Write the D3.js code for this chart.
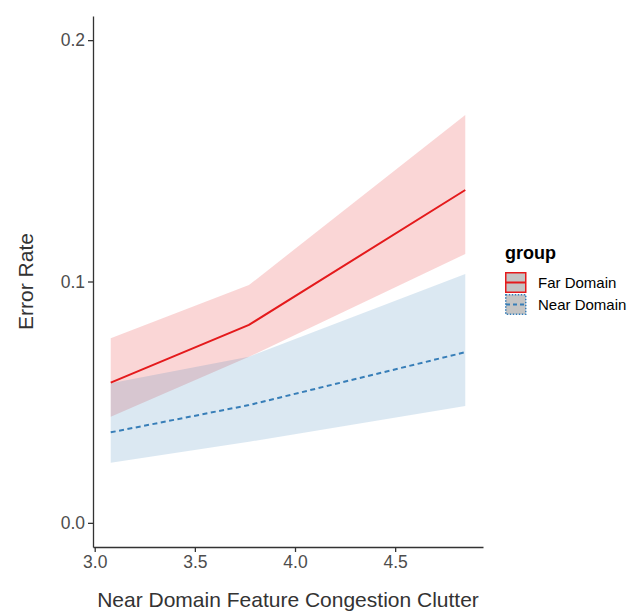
<!DOCTYPE html>
<html>
<head>
<meta charset="utf-8">
<script src="https://cdn.jsdelivr.net/npm/d3@7"></script>
<style>
  body { margin: 0; background: #fff; }
  svg { display: block; font-family: "Liberation Sans", Arial, sans-serif; }
  .axis path, .axis line { stroke: #333; stroke-width: 1.3; }
  .axis text { fill: #4d4d4d; font-size: 17.5px; }
</style>
</head>
<body>
<div id="chart"></div>
<script>
// ----- DATA -----
const clutter = [3.08, 3.77, 4.85];

const farFit   = [0.0581, 0.0820, 0.1379];
const farLow   = [0.0440, 0.0688, 0.1114];
const farHigh  = [0.0765, 0.0985, 0.1690];

const nearFit  = [0.0375, 0.0488, 0.0707];
const nearLow  = [0.0249, 0.0336, 0.0484];
const nearHigh = [0.0578, 0.0688, 0.1031];

const groups = ["Far Domain", "Near Domain"];
const xTicks = [3.0, 3.5, 4.0, 4.5];
const yTicks = [0.0, 0.1, 0.2];

// ----- LAYOUT -----
const width = 632, height = 613;
const panel = { left: 93, right: 483, top: 16, bottom: 547 };

const series = [
    { name: groups[0], fit: farFit, low: farLow, high: farHigh, colour: "#e41a1c", dash: null },
    { name: groups[1], fit: nearFit, low: nearLow, high: nearHigh, colour: "#377eb8", dash: "5,3.5" }
];

const svg = d3.select("#chart").append("svg")
    .attr("width", width)
    .attr("height", height);

// ggplot-like 5% expansion
let xExt = d3.extent(clutter);
let xPad = (xExt[1] - xExt[0]) * 0.05;
let x = d3.scaleLinear()
    .domain([xExt[0] - xPad, xExt[1] + xPad])
    .range([panel.left, panel.right]);

let y = d3.scaleLinear()
    .domain([-0.01, 0.21])
    .range([panel.bottom, panel.top]);

// ribbons
let area = d3.area()
    .x(d => x(d.x))
    .y0(d => y(d.low))
    .y1(d => y(d.high));

let line = d3.line()
    .x(d => x(d.x))
    .y(d => y(d.fit));

series.forEach(s => {
    s.points = clutter.map((cx, i) => ({ x: cx, fit: s.fit[i], low: s.low[i], high: s.high[i] }));
});

svg.append("g").selectAll("path")
    .data(series)
    .enter()
        .append("path")
        .attr("d", d => area(d.points))
        .attr("fill", d => d.colour)
        .attr("fill-opacity", 0.18);

svg.append("g").selectAll("path")
    .data(series)
    .enter()
        .append("path")
        .attr("d", d => line(d.points))
        .attr("fill", "none")
        .attr("stroke", d => d.colour)
        .attr("stroke-width", 2)
        .attr("stroke-dasharray", d => d.dash);

// axes
let xAxis = d3.axisBottom(x)
    .tickValues(xTicks)
    .tickFormat(d3.format(".1f"))
    .tickSizeInner(5)
    .tickSizeOuter(0)
    .tickPadding(4);

let yAxis = d3.axisLeft(y)
    .tickValues(yTicks)
    .tickFormat(d3.format(".1f"))
    .tickSizeInner(5)
    .tickSizeOuter(0)
    .tickPadding(3);

svg.append("g")
    .attr("class", "axis")
    .attr("transform", "translate(0," + panel.bottom + ")")
    .call(xAxis);

svg.append("g")
    .attr("class", "axis")
    .attr("transform", "translate(" + panel.left + ",0)")
    .call(yAxis);

// axis titles
svg.append("text")
    .text("Near Domain Feature Congestion Clutter")
    .attr("x", (panel.left + panel.right) / 2)
    .attr("y", 607)
    .attr("text-anchor", "middle")
    .attr("font-size", 21)
    .attr("fill", "#333");

svg.append("text")
    .text("Error Rate")
    .attr("transform", "translate(33," + ((panel.top + panel.bottom) / 2) + ") rotate(-90)")
    .attr("text-anchor", "middle")
    .attr("font-size", 21)
    .attr("fill", "#333");

// legend
let legend = svg.append("g").attr("transform", "translate(505,0)");

legend.append("text")
    .text("group")
    .attr("x", 0)
    .attr("y", 259)
    .attr("font-size", 18)
    .attr("font-weight", "bold")
    .attr("fill", "#000");

let keys = legend.selectAll(".key")
    .data(series)
    .enter()
        .append("g")
        .attr("transform", (d, i) => "translate(0," + (272 + i * 22) + ")");

keys.append("rect")
    .attr("x", 0.75)
    .attr("y", 0.75)
    .attr("width", 20)
    .attr("height", 19.5)
    .attr("fill", "#c4c4c4")
    .attr("stroke", d => d.colour)
    .attr("stroke-width", 1.5)
    .attr("stroke-dasharray", (d, i) => i === 0 ? null : "1.5,1.5");

keys.append("line")
    .attr("x1", 1)
    .attr("x2", 20.5)
    .attr("y1", 10.5)
    .attr("y2", 10.5)
    .attr("stroke", d => d.colour)
    .attr("stroke-width", 2)
    .attr("stroke-dasharray", d => d.dash ? "4,3" : null);

keys.append("text")
    .text(d => d.name)
    .attr("x", 33)
    .attr("y", 15.5)
    .attr("font-size", 15)
    .attr("fill", "#000");
</script>
</body>
</html>
